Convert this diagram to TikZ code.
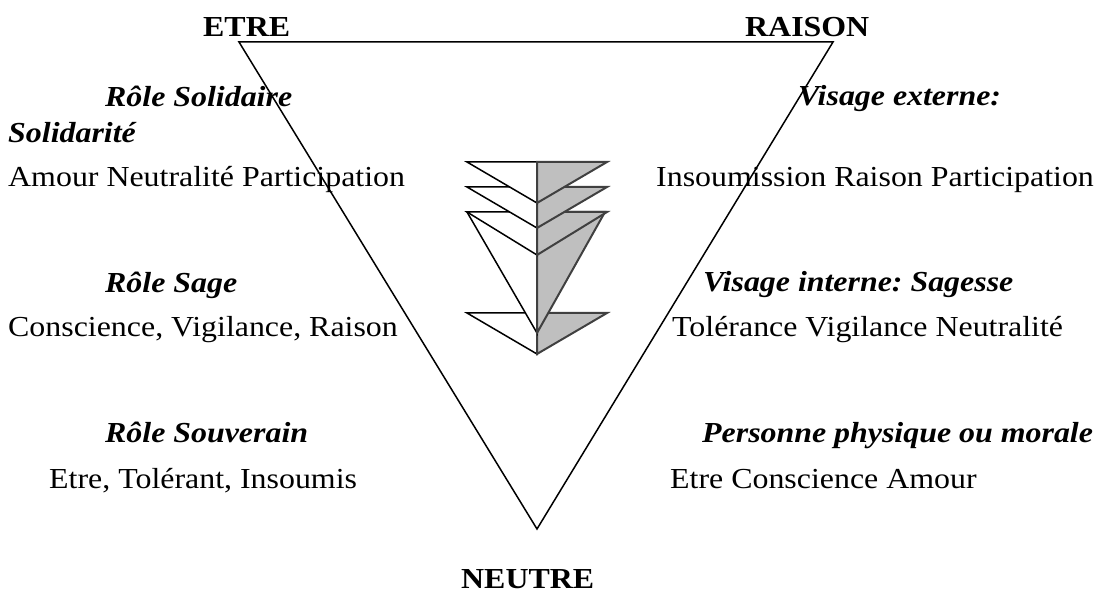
\documentclass[tikz,border=0pt]{standalone}
\usepackage{fontspec}
\setmainfont[FakeStretch=1.1]{Liberation Serif}
\frenchspacing
\begin{document}
\begin{tikzpicture}[x=1pt,y=-1pt,
  every node/.style={inner sep=0pt,anchor=base west,font=\fontsize{29}{34}\selectfont},
  head/.style={font=\fontsize{29}{34}\selectfont\bfseries},
  role/.style={font=\fontsize{29}{34}\selectfont\bfseries\itshape},
  wing/.style={draw=black,fill=white,line width=1.5pt,line join=miter},
  shade/.style={draw=black!75,fill=black!25,line width=2pt,line join=miter}]
\useasboundingbox (0,0) rectangle (1096,593);
\pgfmathsetmacro{\c}{537}
% big triangle
\coordinate (etre) at (239,42);
\coordinate (raison) at (833,42);
\coordinate (neutre) at (\c,529);
\draw [line width=1.5pt] (etre)--(raison)--(neutre)--cycle;
\node[head] (t1) at (203,37) {ETRE};
\node[head] (t2) at (745,37) {RAISON};
\node[head] (t3) at (461,588) {NEUTRE};
% arrow of chevrons
\foreach \top/\bot/\r in {313/354/607, 212/333/605, 212/255/607, 187/228/607, 162/203/607}{
  \draw [wing] (467,\top)--(\c,\top)--(\c,\bot)--cycle;
  \draw [shade] (\c,\top)--(\r,\top)--(\c,\bot)--cycle;
}
% left side
\node[role] (r1) at (105,107) {Rôle Solidaire};
\node[role] (r2) at (8,143) {Solidarité};
\node (l1) at (8,187) {Amour Neutralité Participation};
\node[role] (r3) at (105,293) {Rôle Sage};
\node (l2) at (8,337) {Conscience, Vigilance, Raison};
\node[role] (r4) at (105,443) {Rôle Souverain};
\node (l3) at (49,489) {Etre, Tolérant, Insoumis};
% right side
\node[role] (v1) at (798,106) {Visage externe:};
\node (d1) at (656,187) {Insoumission Raison Participation};
\node[role] (v2) at (703,292) {Visage interne: Sagesse};
\node (d2) at (672,337) {Tolérance Vigilance Neutralité};
\node[role] (v3) at (702,443) {Personne physique ou morale};
\node (d3) at (670,489) {Etre Conscience Amour};
\end{tikzpicture}
\end{document}
